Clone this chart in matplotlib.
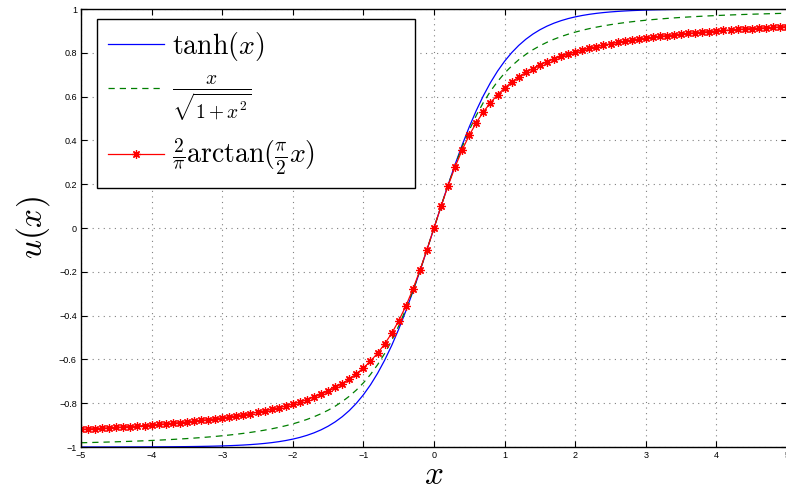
import numpy as np
import matplotlib
matplotlib.use("Agg")
import matplotlib.pyplot as plt

# Data
x = np.linspace(-5, 5, 101)          # sample points (step 0.1)
y_tanh = np.tanh(x)
y_alg = x / np.sqrt(1 + x**2)
y_atan = 2 / np.pi * np.arctan(np.pi / 2 * x)

xticks = [-5, -4, -3, -2, -1, 0, 1, 2, 3, 4, 5]
yticks = [-1, -0.8, -0.6, -0.4, -0.2, 0, 0.2, 0.4, 0.6, 0.8, 1]
xtick_labels = ['\u22125', '\u22124', '\u22123', '\u22122', '\u22121', '0', '1', '2', '3', '4', '5']
ytick_labels = ['\u22121', '\u22120.8', '\u22120.6', '\u22120.4', '\u22120.2', '0', '0.2', '0.4', '0.6', '0.8', '1']

labels = [r'$\tanh(x)$', r'$\frac{x}{\sqrt{1+x^2}}$', r'$\frac{2}{\pi}\arctan(\frac{\pi}{2}x)$']

plt.rcParams['mathtext.fontset'] = 'cm'
plt.rcParams['font.family'] = ['Liberation Sans', 'DejaVu Sans']

fig = plt.figure(figsize=(7.86, 4.94), dpi=100)
ax = fig.add_axes([81/786, 1 - 447/494, 706/786, 438/494])

ax.plot(x, y_tanh, color='#0000ff', lw=0.9, label=labels[0])
ax.plot(x, y_alg, color='#007f00', lw=0.9, ls=(0, (5, 4)), label=labels[1])
ax.plot(x, y_atan, color='#ff0000', lw=0.9, marker=(8, 2, 0), ms=6, mew=0.9, label=labels[2])

ax.set_xlim(-5, 5)
ax.set_ylim(-1, 1)
ax.set_xticks(xticks)
ax.set_xticklabels(xtick_labels)
ax.set_yticks(yticks)
ax.set_yticklabels(ytick_labels)
ax.tick_params(direction='in', length=4, width=0.8, labelsize=6.5, top=True, right=True, pad=3, colors='black')
ax.grid(True, color='#808080', ls=(0, (1, 4)), lw=0.8)
for s in ax.spines.values():
    s.set_linewidth(1.0)

ax.set_xlabel(r'$x$', fontsize=24, labelpad=0)
ax.set_ylabel(r'$u(x)$', fontsize=24, labelpad=5)

x0 = 16/706
w = (415 - 97)/706
leg = ax.legend(loc='upper left', bbox_to_anchor=(x0, 1 - 10/438 - 0.5, w, 0.5), mode='expand',
                fontsize=20, frameon=True, fancybox=False, edgecolor='black', framealpha=1,
                borderpad=0.4, labelspacing=0.4, handlelength=2.0, handletextpad=0.3,
                borderaxespad=0)
leg.get_frame().set_linewidth(1.0)

fig.savefig('out.png', dpi=100)
